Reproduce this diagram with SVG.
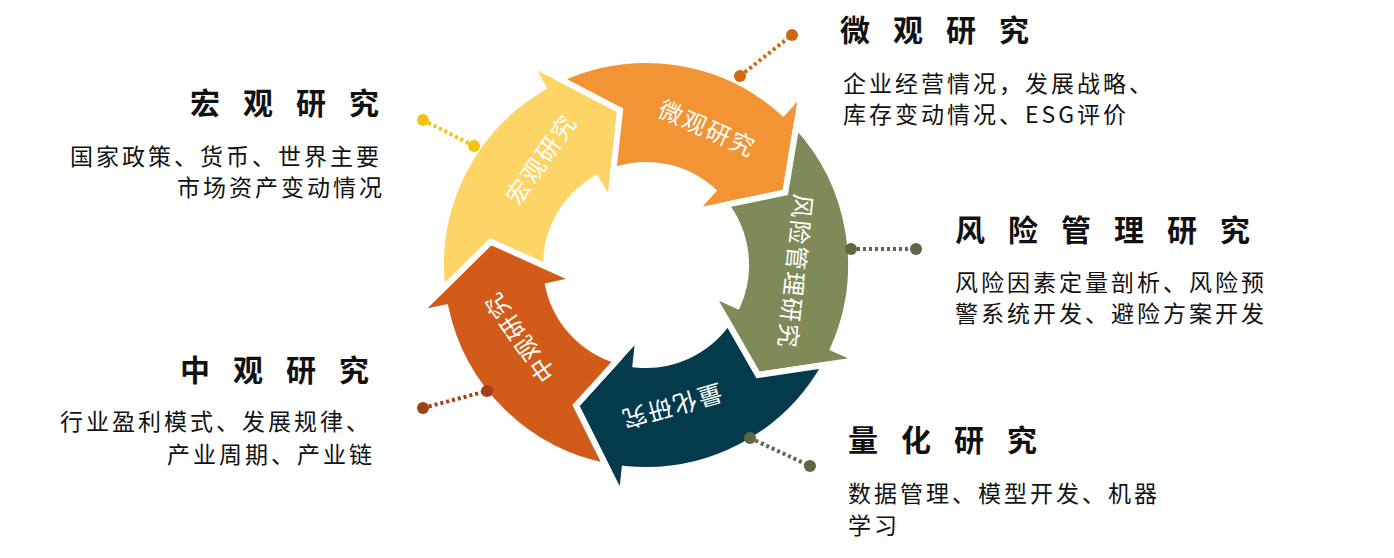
<svg xmlns="http://www.w3.org/2000/svg" width="1394" height="558" viewBox="0 0 1394 558">
<style>
.seg{stroke:#fff;stroke-width:6;stroke-linejoin:miter}
.lbl{font-family:"Noto Sans CJK SC",sans-serif;font-size:24px;fill:#fff;text-anchor:middle;dominant-baseline:central;letter-spacing:2px}
.ttl{font-family:"Noto Sans CJK SC",sans-serif;font-size:30px;font-weight:bold;fill:#111;letter-spacing:23px}
.txt{font-family:"Noto Sans CJK SC",sans-serif;font-size:23px;fill:#111;letter-spacing:3px}
.dl{stroke-width:4;stroke-dasharray:3 3;fill:none}
</style>
<rect width="1394" height="558" fill="#fff"/>
<g id="yellow">
<path class="seg" fill="#FDD466" d="M442.4,289.3 A205,205 0 0 1 543.5,87.5 L529.5,63.2 L620.1,110.2 L610,202.6 L596,178.4 A100,100 0 0 0 546,266.7 L490.7,241.8 Z"/>
<text class="lbl" transform="translate(540,158) rotate(-55)">宏观研究</text>
</g>
<g id="orange">
<path class="seg" fill="#F29433" d="M560,78.9 A205,205 0 0 1 783.2,112.7 L801.9,91.9 L785.3,192.5 L694.2,211.5 L712.9,190.7 A100,100 0 0 0 613.4,170.4 L620.1,110.2 Z"/>
<text class="lbl" transform="translate(708,127) rotate(24)">微观研究</text>
</g>
<g id="green">
<path class="seg" fill="#7E8A58" d="M796.4,125.7 A205,205 0 0 1 833.3,348.4 L858.8,359.8 L758,375 L711.8,294.3 L737.4,305.7 A100,100 0 0 0 725.9,204.8 L785.3,192.5 Z"/>
<text class="lbl" transform="translate(797,272) rotate(96)">风险管理研究</text>
</g>
<g id="navy">
<path class="seg" fill="#033A4C" d="M824.9,365 A205,205 0 0 1 624.6,468.9 L621.6,496.7 L576,405.5 L638.5,336.6 L635.5,364.5 A100,100 0 0 0 727.9,322.4 L758,375 Z"/>
<text class="lbl" transform="translate(672,408) rotate(164)">量化研究</text>
</g>
<g id="red">
<path class="seg" fill="#D35B1A" d="M606.2,466.1 A205,205 0 0 1 445.5,307.6 L418.1,313.4 L490.7,241.8 L575.6,280 L548.2,285.8 A100,100 0 0 0 616.8,360.6 L576,405.5 Z"/>
<text class="lbl" transform="translate(518,338) rotate(235)">中观研究</text>
</g>
<g id="connectors">
<line class="dl" stroke="#F5C211" x1="423" y1="120" x2="474" y2="146"/>
<circle cx="423" cy="120" r="6" fill="#F5C211"/><circle cx="474" cy="146" r="6" fill="#F5C211"/>
<line class="dl" stroke="#CF6A12" x1="740" y1="76" x2="792" y2="35"/>
<circle cx="740" cy="76" r="6" fill="#CF6A12"/><circle cx="792" cy="35" r="6" fill="#CF6A12"/>
<line class="dl" stroke="#5E6748" x1="851" y1="249" x2="916" y2="249"/>
<circle cx="851" cy="249" r="6" fill="#5E6748"/><circle cx="916" cy="249" r="6" fill="#5E6748"/>
<line class="dl" stroke="#5E6748" x1="750" y1="438" x2="810" y2="466"/>
<circle cx="750" cy="438" r="6" fill="#5E6748"/><circle cx="810" cy="466" r="6" fill="#5E6748"/>
<line class="dl" stroke="#A3401A" x1="423" y1="408" x2="487" y2="391"/>
<circle cx="423" cy="408" r="6" fill="#A3401A"/><circle cx="487" cy="391" r="6" fill="#A3401A"/>
</g>
<g id="macro">
<text class="ttl" x="190" y="114">宏观研究</text>
<text class="txt" x="70" y="165">国家政策、货币、世界主要</text>
<text class="txt" x="177" y="196">市场资产变动情况</text>
</g>
<g id="micro">
<text class="ttl" x="840" y="41">微观研究</text>
<text class="txt" x="843" y="92">企业经营情况，发展战略、</text>
<text class="txt" x="843" y="123">库存变动情况、ESG评价</text>
</g>
<g id="risk">
<text class="ttl" x="955" y="241">风险管理研究</text>
<text class="txt" x="955" y="291">风险因素定量剖析、风险预</text>
<text class="txt" x="955" y="322">警系统开发、避险方案开发</text>
</g>
<g id="meso">
<text class="ttl" x="180" y="381">中观研究</text>
<text class="txt" x="60" y="430">行业盈利模式、发展规律、</text>
<text class="txt" x="167" y="463">产业周期、产业链</text>
</g>
<g id="quant">
<text class="ttl" x="848" y="451">量化研究</text>
<text class="txt" x="848" y="502">数据管理、模型开发、机器</text>
<text class="txt" x="848" y="534">学习</text>
</g>
</svg>
